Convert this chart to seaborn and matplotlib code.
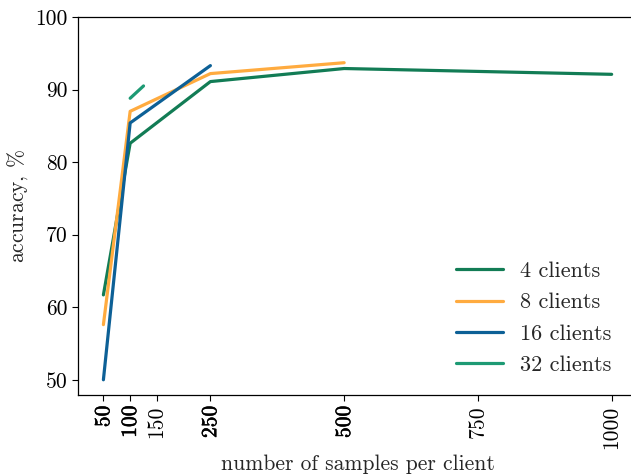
import numpy as np
import pandas as pd
import matplotlib
matplotlib.use('Agg')
import matplotlib.pyplot as plt
import matplotlib.patheffects as pe
import seaborn as sns

# accuracy (%) vs samples per client, one list per client count
x_4 = [50, 100, 250, 500, 1000]
acc_4 = [61.7, 82.6, 91.1, 92.9, 92.1]
x_8 = [50, 100, 250, 500]
acc_8 = [57.6, 87.0, 92.2, 93.7]
x_16 = [50, 100, 250]
acc_16 = [50.0, 85.4, 93.3]
x_32 = [100, 125]
acc_32 = [88.8, 90.5]

labels = ["4 clients", "8 clients", "16 clients", "32 clients"]
colors = ["#127c55", "#ffab3f", "#0d6096", "#1d9a74"]
tick_vals = [50, 100, 150, 250, 500, 750, 1000]
bold_ticks = [50, 100, 250, 500]

rows = []
for lab, xs, ys in zip(labels, [x_4, x_8, x_16, x_32], [acc_4, acc_8, acc_16, acc_32]):
    for a, b in zip(xs, ys):
        rows.append({"samples": a, "acc": b, "series": lab})
df = pd.DataFrame(rows)

sns.set_theme(style="ticks")
plt.rcParams.update({
    "font.family": "serif",
    "font.serif": ["cmr10", "DejaVu Serif"],
    "mathtext.fontset": "cm",
    "axes.formatter.use_mathtext": True,
    "axes.linewidth": 0.9,
})

fig = plt.figure(figsize=(6.31, 4.75), dpi=100)
ax = fig.add_axes([0.1236, 0.1684, 0.886, 0.7958])
sns.lineplot(data=df, x="samples", y="acc", hue="series", hue_order=labels,
             palette=colors, linewidth=2.3, ax=ax, sort=False, estimator=None)

ax.set_xlim(2.5, 1047.5)
ax.set_ylim(47.9, 100)
ax.set_xticks(tick_vals)
ax.set_xticklabels([str(v) for v in tick_vals], rotation=90, fontsize=15.5)
for t, v in zip(ax.get_xticklabels(), tick_vals):
    if v in bold_ticks:
        t.set_path_effects([pe.withStroke(linewidth=0.4, foreground="black")])
ax.set_yticks([50, 60, 70, 80, 90, 100])
ax.set_yticklabels(["50", "60", "70", "80", "90", "100"], fontsize=15.5)
ax.tick_params(axis="both", direction="out", length=4, width=0.8, colors="black")
ax.set_xlabel("number of samples per client", fontsize=15.5)
ax.set_ylabel(r"accuracy, $\%$", fontsize=15.5)
for s in ax.spines.values():
    s.set_color("black")
ax.spines["right"].set_visible(False)

leg = ax.legend(loc="lower right", frameon=False, fontsize=16, handlelength=2.15,
                handletextpad=0.75, bbox_to_anchor=(0.99, 0.0), labelspacing=0.53)
leg.set_title(None)

fig.savefig("out.png", dpi=100)
